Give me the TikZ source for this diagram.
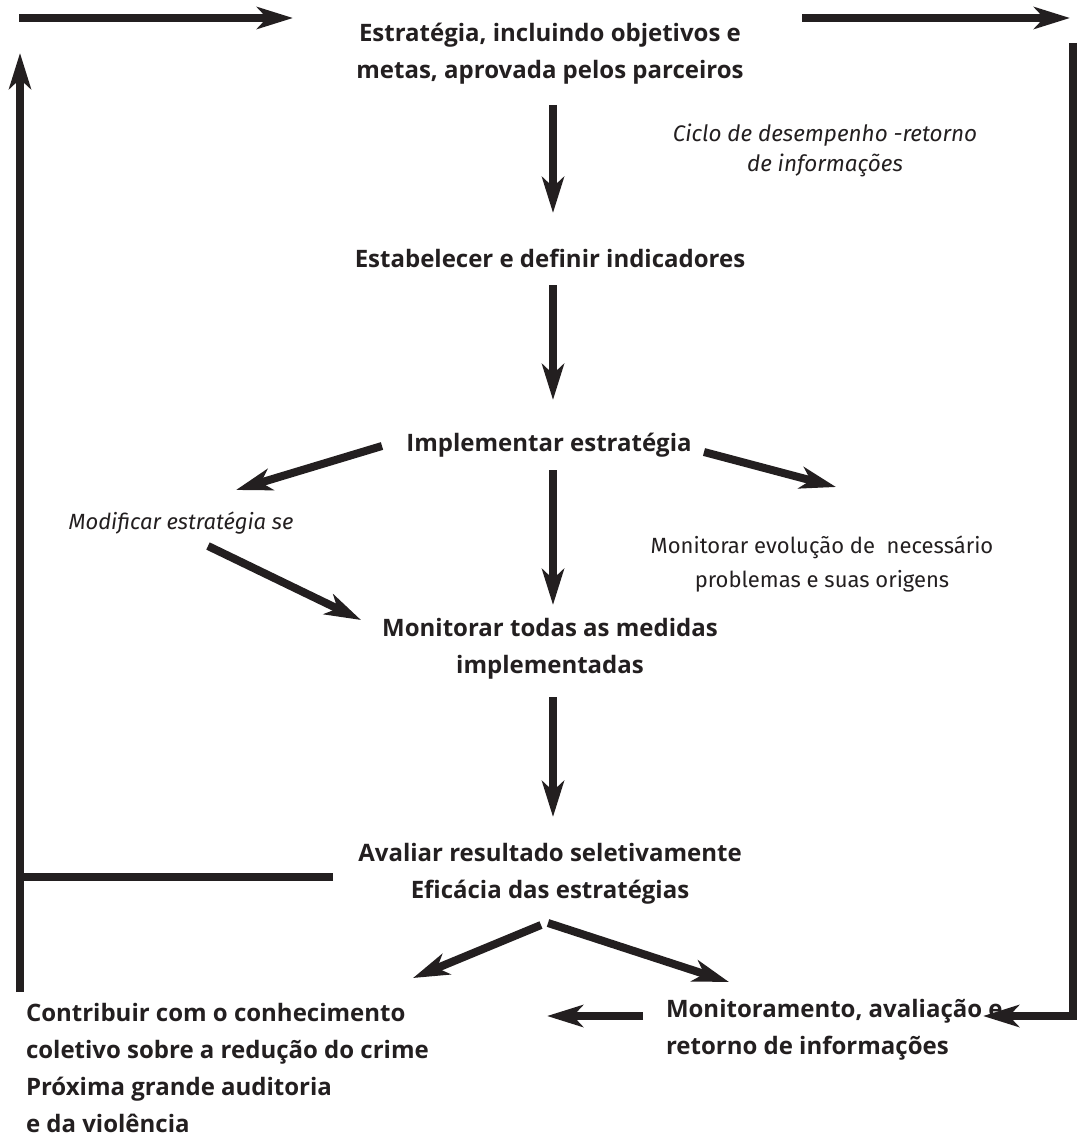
\documentclass[tikz,border=0pt]{standalone}
\usepackage{fontspec}
\usepackage{tikz}
\usetikzlibrary{arrows.meta}
\setmainfont{Open Sans}
\newfontfamily\lightfont{Fira Sans}
\definecolor{ink}{RGB}{35,31,32}

\begin{document}
\begin{tikzpicture}[x=1pt,y=-1pt,
  line width=8pt, ink,
  arr/.style={-{Stealth[length=36pt,width=22pt,inset=10pt]}},
  box/.style={inner sep=0pt, align=center, font=\fontsize{24}{37}\selectfont\bfseries},
  note/.style={inner sep=0pt, align=center, font=\fontsize{22}{34}\selectfont\lightfont}]
\useasboundingbox (0,0) rectangle (1079,1137);
% steps
\node[box] (strat) at (550,53.5) {Estratégia, incluindo objetivos e\\metas, aprovada pelos parceiros};
\node[note, font=\fontsize{22.5}{30}\selectfont\lightfont\itshape] (ciclo) at (825,150) {Ciclo de desempenho -retorno\\de informações};
\node[box] (indic) at (550,258) {Estabelecer e definir indicadores};
\node[box] (impl) at (549,445) {Implementar estratégia};
\node[note, font=\fontsize{22}{34}\selectfont\lightfont\itshape] (modif) at (181,523) {Modificar estratégia se};
\node[note] (monevo) at (822,564) {Monitorar evolução de \ necessário\\problemas e suas origens};
\node[box] (medidas) at (550,649) {Monitorar todas as medidas\\implementadas};
\node[box] (aval) at (550,873.5) {Avaliar resultado seletivamente\\Eficácia das estratégias};
\node[box, align=left, anchor=west] (contrib) at (22,1067.5) {Contribuir com o conhecimento\\coletivo sobre a redução do crime\\Próxima grande auditoria\\e da violência};
\node[box, align=left, anchor=west] (monit) at (662,1030) {Monitoramento, avaliação e\\retorno de informações};
% loop corners
\coordinate (tl) at (20,18);
\coordinate (tr) at (1070,18);
\coordinate (bl) at (20,992);
\coordinate (br) at (1073,1016);
% main chain
\draw[arr] ([shift={(3,51.5)}]strat.center) -- ([shift={(3,-45)}]indic.center);
\draw[arr] ([shift={(3,27)}]indic.center) -- ([shift={(4,-45)}]impl.center);
\draw[arr] ([shift={(4,25)}]impl.center) -- ([shift={(3,-44)}]medidas.center);
\draw[arr] ([shift={(-167,1)}]impl.center) -- ([shift={(55,-33)}]modif.center);
\draw[arr] ([shift={(155,7)}]impl.center) -- ([shift={(14,-77)}]monevo.center);
\draw[arr] ([shift={(27,23)}]modif.center) -- ([shift={(-189,-29)}]medidas.center);
\draw[arr] ([shift={(3,48)}]medidas.center) -- ([shift={(3,-56.5)}]aval.center);
\draw[arr] ([shift={(-9,51.5)}]aval.center) -- ([shift={(391,-89.5)}]contrib.west);
\draw[arr] ([shift={(-2,49.5)}]aval.center) -- ([shift={(67,-48)}]monit.west);
\draw[arr] ([shift={(-19,-14)}]monit.west) -- ([shift={(525,-51.5)}]contrib.west);
% feedback loops
\draw[arr] ([xshift=-1pt]tl) -- ([shift={(-257,-35.5)}]strat.center);
\draw[arr] ([shift={(252,-35.5)}]strat.center) -- (tr);
\draw[arr] (bl) -- ([yshift=-35pt]tl);
\draw ([shift={(-217,3.5)}]aval.center) -- ([shift={(-530,3.5)}]aval.center);
\draw[arr, line join=miter] ([shift={(3,25)}]tr) -- (br) -- ([shift={(321,-14)}]monit.west);
\end{tikzpicture}
\end{document}
